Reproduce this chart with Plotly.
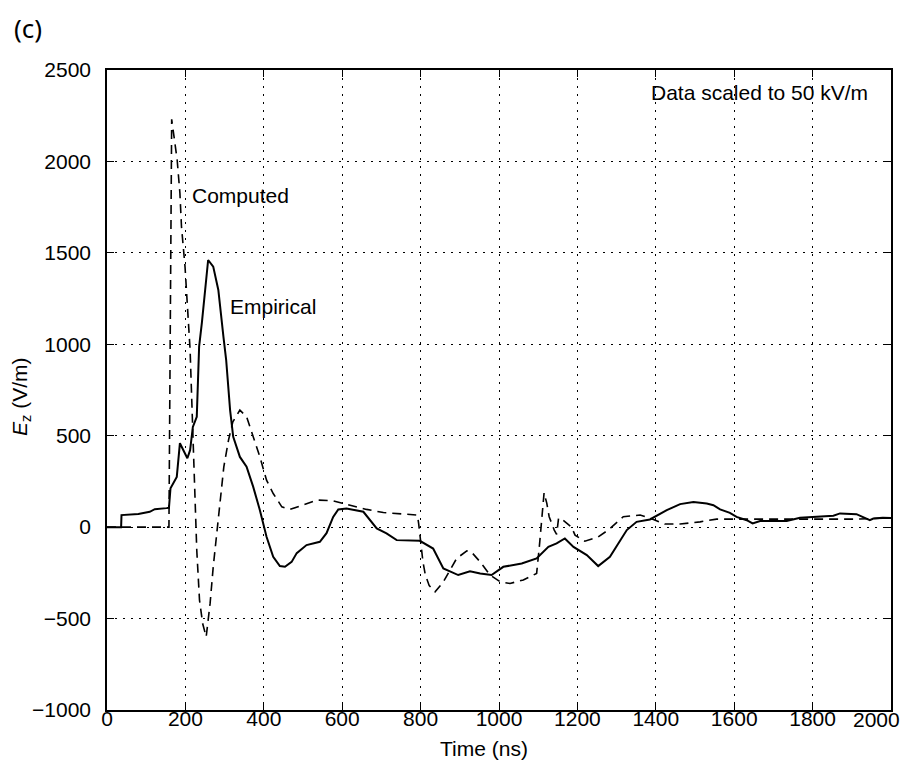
import plotly.graph_objects as go

# Empirical (solid) curve
emp_t = [0, 36, 37, 60, 80, 109, 122, 152, 158, 162, 178, 186, 195, 205, 212, 219, 229, 235, 242, 258,
         271, 284, 297, 304, 314, 322, 339, 356, 373, 390, 407, 424, 441, 454, 471, 484, 509, 543, 560,
         577, 590, 611, 654, 688, 713, 739, 798, 832, 858, 875, 896, 926, 952, 981, 1011, 1058, 1096,
         1126, 1147, 1168, 1190, 1224, 1253, 1283, 1326, 1351, 1385, 1428, 1462, 1496, 1530, 1547,
         1564, 1589, 1606, 1632, 1647, 1666, 1734, 1768, 1811, 1853, 1870, 1912, 1946, 1955, 1979, 2000]
emp_v = [0, 0, 66, 70, 72, 84, 98, 104, 106, 213, 275, 459, 421, 377, 421, 548, 603, 987, 1117, 1461,
         1425, 1297, 1042, 914, 640, 494, 384, 330, 220, 93, -53, -162, -213, -217, -190, -142, -98, -80, -33,
         56, 97, 102, 84, -7, -34, -71, -75, -117, -226, -244, -262, -241, -253, -262, -217, -199, -171,
         -108, -89, -62, -108, -153, -213, -162, -16, 29, 42, 93, 126, 138, 129, 120,
         97, 78, 56, 38, 20, 34, 34, 51, 56, 62, 75, 71, 38, 47, 51, 50]

# Computed (dashed) curve
comp_t = [0, 158, 165, 173, 179, 186, 190, 199, 205, 212, 219, 224, 229, 236, 244, 253, 263, 271, 280,
          288, 298, 310, 321, 339, 356, 373, 390, 407, 424, 446, 467, 492, 535, 577, 620, 662, 705, 747,
          781, 792, 795, 800, 806, 812, 822, 837, 858, 875, 892, 918, 930, 952, 977, 1003, 1028, 1062,
          1096, 1103, 1110, 1115, 1122, 1128, 1141, 1147, 1152, 1160, 1185, 1194, 1219, 1253, 1279,
          1317, 1360, 1394, 1423, 1462, 1513, 1555, 1623, 1700, 1851, 1915, 2000]
comp_v = [0, 0, 2230, 2099, 2008, 1826, 1644, 1425, 1187, 969, 514, 148, -126, -399, -527, -600, -417, -217, -35,
          148, 330, 476, 576, 640, 604, 494, 384, 257, 184, 111, 97, 115, 148, 144, 120, 97, 80, 75,
          69, 66, 20, -80, -190, -260, -320, -354, -299, -235, -171, -130, -137, -190, -262, -299, -308, -289,
          -253, -104, 93, 188, 130, 57, -16, -40, 50, 44, 0, -44, -77, -53, -15,
          57, 66, 42, 17, 17, 29, 44, 44, 44, 44, 44, 50]

x_ticks = [0, 200, 400, 600, 800, 1000, 1200, 1400, 1600, 1800, 2000]
x_tick_text = ["0", "200", "400", "600", "800", "1000", "1200", "1400", "1600", "1800", "2000"]
y_ticks = [-1000, -500, 0, 500, 1000, 1500, 2000, 2500]
y_tick_text = ["\u22121000", "\u2212500", "0", "500", "1000", "1500", "2000", "2500"]

FONT = "Liberation Sans, Arial, sans-serif"
FS = 21

# page has an 8px body margin; figure sized to fit in the window
W, H = 903, 753
L, T, PW, PH = 99, 62, 784, 640

fig = go.Figure()
fig.add_trace(go.Scatter(x=comp_t, y=comp_v, mode="lines",
                         line=dict(color="black", width=1.6, dash="9px,6px"), name="Computed"))
fig.add_trace(go.Scatter(x=emp_t, y=emp_v, mode="lines",
                         line=dict(color="black", width=2), name="Empirical"))

axis_common = dict(showline=True, linecolor="black", linewidth=1.5, mirror="allticks",
                   ticks="inside", ticklen=7, tickwidth=1.3, tickcolor="black",
                   showgrid=True, gridcolor="black", gridwidth=1.2, griddash="1.5px,6.5px",
                   zeroline=False, ticklabeloverflow="allow", automargin=False,
                   tickfont=dict(family=FONT, size=FS, color="black"))

# last x tick label is drawn as an annotation so it stays inside the window edge
fig.update_xaxes(range=[0, 2000], tickvals=x_ticks, ticktext=x_tick_text[:-1] + [""],
                 ticklabelstandoff=-11, **axis_common)
fig.update_yaxes(range=[-1000, 2500], tickvals=y_ticks, ticktext=y_tick_text,
                 ticklabelstandoff=10, **axis_common)
fig.add_annotation(xref="paper", yref="paper", x=(902 - 107) / PW, y=-(719 - 710) / PH,
                   text=x_tick_text[-1], showarrow=False, xanchor="right", yanchor="middle",
                   font=dict(family=FONT, size=FS, color="black"))

fig.add_annotation(x=212, y=1816, text="Computed", showarrow=False, xanchor="left", yanchor="middle",
                   font=dict(family=FONT, size=FS, color="black"))
fig.add_annotation(x=309, y=1205, text="Empirical", showarrow=False, xanchor="left", yanchor="middle",
                   font=dict(family=FONT, size=FS, color="black"))
fig.add_annotation(x=1946, y=2375, text="Data scaled to 50 kV/m", showarrow=False, xanchor="right",
                   yanchor="middle", font=dict(family=FONT, size=FS, color="black"))
fig.add_annotation(xref="paper", yref="paper", x=(484 - 107) / PW, y=-(748 - 710) / PH,
                   text="Time (ns)", showarrow=False, xanchor="center", yanchor="middle",
                   font=dict(family=FONT, size=FS, color="black"))
fig.add_annotation(xref="paper", yref="paper", x=(21 - 107) / PW, y=(710 - 397) / PH,
                   text="<i>E</i><sub>z</sub> (V/m)", showarrow=False, textangle=-90,
                   xanchor="center", yanchor="middle",
                   font=dict(family=FONT, size=FS, color="black"))
fig.add_annotation(xref="paper", yref="paper", x=(12 - 107) / PW, y=(710 - 28) / PH,
                   text="(c)", showarrow=False, xanchor="left", yanchor="middle",
                   font=dict(family="Noto Sans, sans-serif", size=26, color="black"))

fig.update_layout(width=W, height=H, margin=dict(l=L, r=W - L - PW, t=T, b=H - T - PH, autoexpand=False),
                  paper_bgcolor="white", plot_bgcolor="white", showlegend=False)

fig.write_html("out.html")
